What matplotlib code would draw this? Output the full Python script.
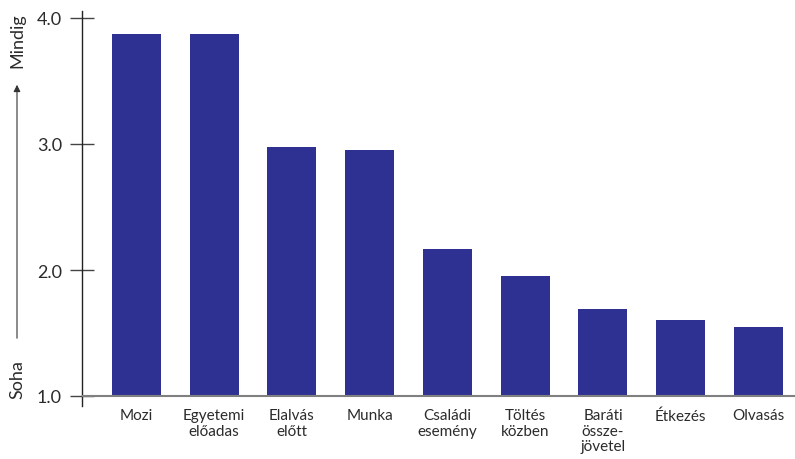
import numpy as np
import matplotlib
matplotlib.use("Agg")
import matplotlib.pyplot as plt

categories = ["Mozi", "Egyetemi\nelőadas", "Elalvás\nelőtt", "Munka", "Családi\nesemény",
              "Töltés\nközben", "Baráti\nössze-\njövetel", "Étkezés", "Olvasás"]
values = [3.87, 3.87, 2.98, 2.95, 2.17, 1.95, 1.69, 1.60, 1.55]
yticks = [1.0, 2.0, 3.0, 4.0]

plt.rcParams['font.family'] = ['Lato', 'DejaVu Sans']

fig = plt.figure(figsize=(7.95, 4.6), dpi=100)
ax = fig.add_axes([82 / 795, 1 - 407 / 460, 1 - 82 / 795, (407 - 12) / 460])

x = np.arange(len(categories))
base = yticks[0]
ax.bar(x, np.array(values) - base, bottom=base, width=0.63, color='#2e3192', zorder=2)

ax.axhline(base, color='#808080', lw=1.5, zorder=3)

ax.set_xlim(-0.70, len(categories) - 1 + 0.47)
ax.set_ylim(base - 10 / 126, 4.0 + 7 / 126)

ax.set_yticks(yticks)
ax.set_yticklabels([f"{v:.1f}" for v in yticks], fontsize=13, color='#2b2b2b')
ax.tick_params(axis='y', direction='inout', length=17, width=1, color='#444444', pad=6)

ax.set_xticks(x)
ax.set_xticklabels(categories, fontsize=11, color='#2b2b2b', linespacing=1.15)
ax.tick_params(axis='x', length=0, pad=1.5)

for s in ['top', 'right', 'bottom']:
    ax.spines[s].set_visible(False)
ax.spines['left'].set_color('#222222')
ax.spines['left'].set_linewidth(1)

# y axis annotation: Soha -> Mindig
fig.text(17 / 795, 1 - 380 / 460, "Soha", rotation=90, ha='center', va='center',
         fontsize=13, color='#2b2b2b')
fig.text(17 / 795, 1 - 41 / 460, "Mindig", rotation=90, ha='center', va='center',
         fontsize=13, color='#2b2b2b')
fig.patches.append(matplotlib.patches.FancyArrowPatch(
    (17 / 795, 1 - 342 / 460), (17 / 795, 1 - 83 / 460), transform=fig.transFigure,
    arrowstyle='-|>,head_length=4,head_width=2', color='#333333', lw=0.8))

fig.savefig("out.png", dpi=100)
